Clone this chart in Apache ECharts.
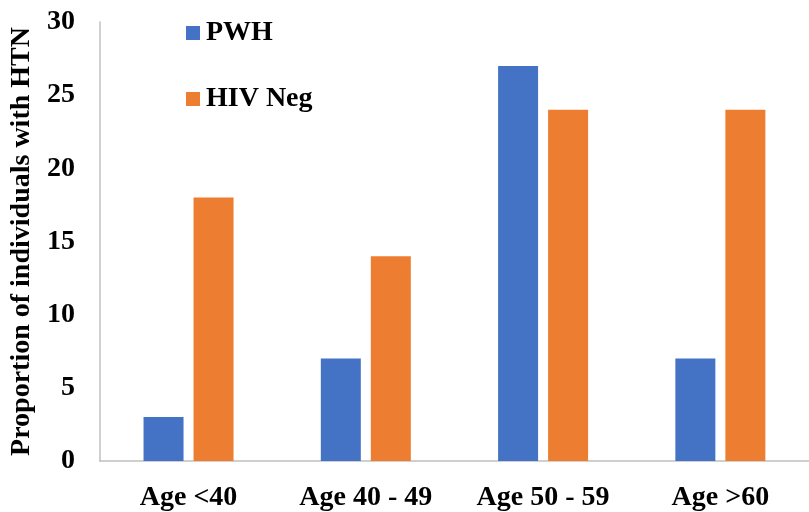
<!DOCTYPE html>
<html><head><meta charset="utf-8">
<script src="https://cdn.jsdelivr.net/npm/echarts@6/dist/echarts.min.js"></script>
<style>html,body{margin:0;padding:0;background:#fff}#c{width:809px;height:512px}</style>
</head><body><div id="c"></div>
<script>
const categories = ['Age <40', 'Age 40 - 49', 'Age 50 - 59', 'Age >60'];
const pwh = [3, 7, 27, 7];
const hivNeg = [18, 14, 24, 24];
const yTicks = [0, 5, 10, 15, 20, 25, 30];

const font = 'Liberation Serif';
const chart = echarts.init(document.getElementById('c'));
chart.setOption({
  animation: false,
  grid: { left: 98, top: 22, width: 724, height: 441 },
  legend: {
    orient: 'vertical', left: 181, top: 14, itemGap: 38,
    itemWidth: 14, itemHeight: 14, icon: 'rect',
    textStyle: { fontFamily: font, fontWeight: 'bold', fontSize: 28, color: '#000', padding: [0,0,0,1] },
    data: ['PWH', 'HIV Neg']
  },
  xAxis: {
    type: 'category', data: categories,
    axisLine: { lineStyle: { color: '#c0c0c0', width: 1.5 } },
    axisTick: { show: false },
    axisLabel: { fontFamily: font, fontWeight: 'bold', fontSize: 28, color: '#000', margin: 23 }
  },
  yAxis: {
    type: 'value', min: yTicks[0], max: yTicks[yTicks.length-1], interval: 5,
    name: 'Proportion of individuals with HTN', nameLocation: 'middle', nameGap: 58,
    nameTextStyle: { fontFamily: font, fontWeight: 'bold', fontSize: 28, color: '#000' },
    axisLine: { show: true, lineStyle: { color: '#c0c0c0', width: 1.5 } },
    axisTick: { show: false },
    splitLine: { show: false },
    axisLabel: { fontFamily: font, fontWeight: 'bold', fontSize: 28, color: '#000', margin: 25 }
  },
  series: [
    { name: 'PWH', type: 'bar', data: pwh, barWidth: 40, barGap: '25%', itemStyle: { color: '#4472C4' } },
    { name: 'HIV Neg', type: 'bar', data: hivNeg, barWidth: 40, barGap: '25%', itemStyle: { color: '#ED7D31' } }
  ]
});
</script></body></html>
